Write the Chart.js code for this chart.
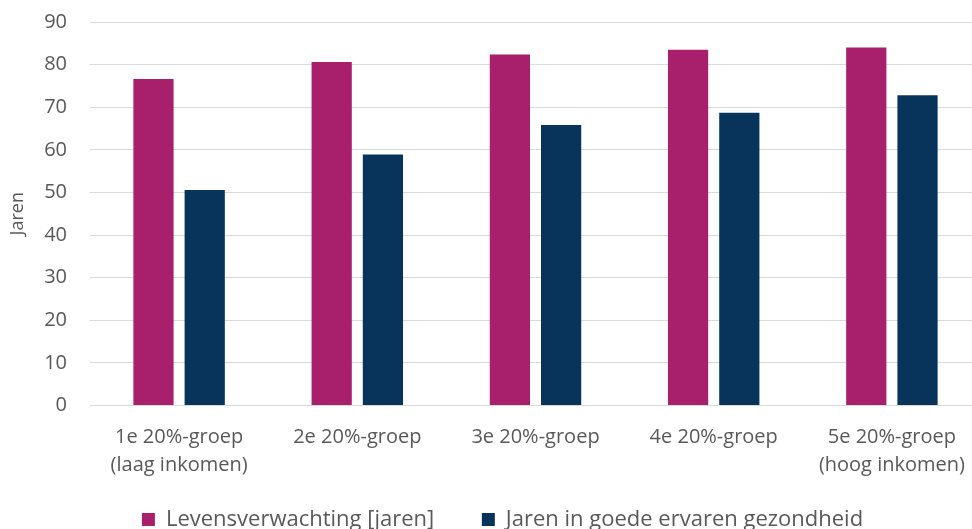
<!DOCTYPE html>
<html>
<head>
<meta charset="utf-8">
<script src="https://cdn.jsdelivr.net/npm/chart.js@4/dist/chart.umd.min.js"></script>
<style>
  html, body { margin: 0; padding: 0; background: #fff; overflow: hidden; }
  #wrap { width: 972px; height: 529px; overflow: hidden; position: relative; }
  #box { width: 1005px; height: 529px; position: absolute; left: 0; top: 0; }
</style>
</head>
<body>
<div id="wrap"><div id="box"><canvas id="c"></canvas></div></div>
<script>
// Inkomensgroepen (kwintielen)
const categories = [
  ['1e 20%-groep', '(laag inkomen)'],
  '2e 20%-groep',
  '3e 20%-groep',
  '4e 20%-groep',
  ['5e 20%-groep', '(hoog inkomen)']
];
const seriesNames = ['Levensverwachting [jaren]', 'Jaren in goede ervaren gezondheid'];
const levensverwachting = [76.6, 80.6, 82.4, 83.5, 84.0];
const gezondeJaren = [50.6, 58.9, 65.8, 68.7, 72.8];
const yTicks = [0, 10, 20, 30, 40, 50, 60, 70, 80, 90];

const grey = '#595959';
const legendGap = '     '; // extra room between the two legend entries

new Chart(document.getElementById('c'), {
  type: 'bar',
  data: {
    labels: categories,
    datasets: [
      { label: seriesNames[0], data: levensverwachting, backgroundColor: '#A81F6B',
        categoryPercentage: 0.575, barPercentage: 0.785 },
      { label: seriesNames[1], data: gezondeJaren, backgroundColor: '#08345C',
        categoryPercentage: 0.575, barPercentage: 0.785 }
    ]
  },
  options: {
    responsive: true,
    maintainAspectRatio: false,
    animation: false,
    layout: { padding: { top: 22, right: 0, bottom: -11.5, left: 0 } },
    plugins: {
      tooltip: { enabled: false },
      legend: {
        position: 'bottom',
        labels: {
          boxWidth: 13, boxHeight: 13, padding: 19,
          color: grey,
          font: { family: 'Open Sans', size: 22 },
          generateLabels: chart => {
            const items = Chart.defaults.plugins.legend.labels.generateLabels(chart);
            items.forEach((it, i) => { if (i === 0) it.text = it.text + legendGap; });
            return items;
          }
        }
      }
    },
    scales: {
      x: {
        grid: { display: false },
        border: { display: true, color: '#D9D9D9', width: 1 },
        ticks: {
          color: grey, padding: 10, maxRotation: 0, autoSkip: false,
          font: { family: 'Open Sans', size: 20, lineHeight: 1.4 }
        }
      },
      y: {
        min: 0, max: 90,
        afterBuildTicks: s => { s.ticks = yTicks.map(v => ({ value: v })); },
        afterFit: s => { s.width = 90; },
        grid: { color: '#D9D9D9', lineWidth: 1, drawTicks: true, tickLength: 22, tickColor: 'rgba(0,0,0,0)' },
        border: { display: false },
        ticks: {
          color: grey, padding: 1,
          font: { family: 'Open Sans', size: 20 }
        },
        title: {
          display: true, text: 'Jaren', color: grey,
          font: { family: 'Open Sans', size: 18 },
          padding: { top: 7, bottom: 0 }
        }
      },
      // empty right-hand margin so the plot ends before the legend box does
      yRight: {
        position: 'right', min: 0, max: 90,
        grid: { display: false }, border: { display: false },
        ticks: { display: false },
        afterFit: s => { s.width = 24; }
      }
    }
  }
});
</script>
</body>
</html>
